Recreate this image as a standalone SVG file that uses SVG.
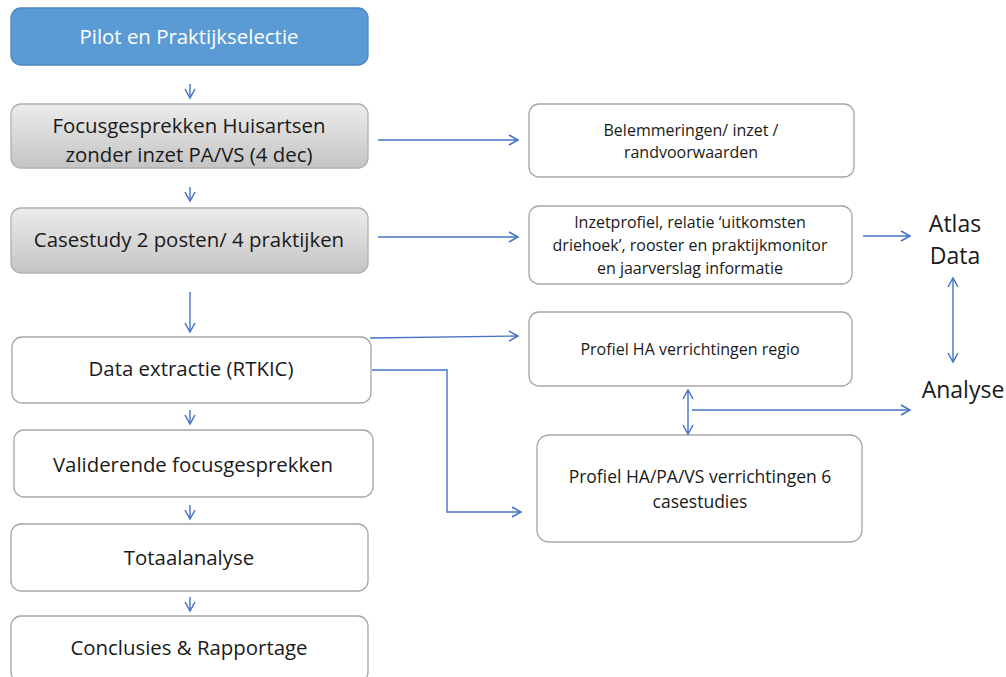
<svg xmlns="http://www.w3.org/2000/svg" width="1006" height="677" viewBox="0 0 1006 677">
<defs>
<linearGradient id="gray" x1="0" y1="0" x2="0" y2="1">
<stop offset="0" stop-color="#ececec"/>
<stop offset="1" stop-color="#c4c4c4"/>
</linearGradient>
<marker id="arr" markerWidth="12" markerHeight="12" refX="10" refY="6" orient="auto-start-reverse" markerUnits="userSpaceOnUse">
<path d="M1,1 L10,6 L1,11" fill="none" stroke="#4472c4" stroke-width="1.5"/>
</marker>
</defs>
<style>
.box{fill:#fff;stroke:#a6a6a6;stroke-width:1.3}
.gbox{fill:url(#gray);stroke:#b0b0b0;stroke-width:1.3}
.bbox{fill:#5b9bd5;stroke:#4a86c0;stroke-width:1.3}
.t{font-family:"Open Sans","Noto Sans",sans-serif;font-size:20.4px;fill:#1a1a1a;text-anchor:middle}
.s{font-family:"Open Sans","Noto Sans",sans-serif;font-size:16px;fill:#1a1a1a;text-anchor:middle}
.big{font-family:"Open Sans","Noto Sans",sans-serif;font-size:23px;fill:#1a1a1a;text-anchor:middle}
.c{fill:none;stroke:#4472c4;stroke-width:1.4}
.a{marker-end:url(#arr)}
.d{marker-start:url(#arr);marker-end:url(#arr)}
</style>
<g id="pilot"><rect class="bbox" x="11" y="8" width="357" height="57" rx="10"/><text class="t" x="189" y="44" style="fill:#fff">Pilot en Praktijkselectie</text></g>
<g id="focus"><rect class="gbox" x="11" y="104" width="357" height="64" rx="10"/><text class="t" x="189" y="133">Focusgesprekken Huisartsen</text><text class="t" x="189" y="162">zonder inzet PA/VS (4 dec)</text></g>
<g id="casestudy"><rect class="gbox" x="11" y="208" width="357" height="65" rx="10"/><text class="t" x="189" y="247">Casestudy 2 posten/ 4 praktijken</text></g>
<g id="data"><rect class="box" x="12" y="337" width="359" height="66" rx="10"/><text class="t" x="191" y="376">Data extractie (RTKIC)</text></g>
<g id="valid"><rect class="box" x="14" y="430" width="359" height="67" rx="10"/><text class="t" x="193" y="472">Validerende focusgesprekken</text></g>
<g id="totaal"><rect class="box" x="11" y="524" width="357" height="67" rx="10"/><text class="t" x="189" y="565">Totaalanalyse</text></g>
<g id="concl"><rect class="box" x="11" y="616" width="357" height="66" rx="10"/><text class="t" x="189" y="655">Conclusies &amp; Rapportage</text></g>
<g id="belem"><rect class="box" x="529" y="104" width="325" height="73" rx="10"/><text class="s" x="691" y="136">Belemmeringen/ inzet /</text><text class="s" x="691" y="158">randvoorwaarden</text></g>
<g id="inzet"><rect class="box" x="529" y="206" width="323" height="78" rx="10"/><text class="s" x="690" y="228">Inzetprofiel, relatie ‘uitkomsten</text><text class="s" x="690" y="251">driehoek’, rooster en praktijkmonitor</text><text class="s" x="690" y="274">en jaarverslag informatie</text></g>
<g id="regio"><rect class="box" x="529" y="312" width="323" height="74" rx="10"/><text class="s" x="690" y="355">Profiel HA verrichtingen regio</text></g>
<g id="casest6"><rect class="box" x="537" y="435" width="325" height="107" rx="12"/><text class="s" x="700" y="483" style="font-size:17.5px">Profiel HA/PA/VS verrichtingen 6</text><text class="s" x="700" y="508" style="font-size:17.5px">casestudies</text></g>
<g id="atlas"><text class="big" x="955" y="232">Atlas</text><text class="big" x="955" y="264">Data</text></g>
<g id="analyse"><text class="big" x="963" y="398">Analyse</text></g>
<g id="connectors">
<line class="c a" x1="190" y1="84" x2="190" y2="98"/>
<line class="c a" x1="190" y1="187" x2="190" y2="201"/>
<line class="c a" x1="190" y1="292" x2="190" y2="332"/>
<line class="c a" x1="190" y1="410" x2="190" y2="424"/>
<line class="c a" x1="190" y1="505" x2="190" y2="519"/>
<line class="c a" x1="190" y1="597" x2="190" y2="611"/>
<line class="c a" x1="378" y1="140" x2="518" y2="140"/>
<line class="c a" x1="378" y1="237" x2="518" y2="237"/>
<line class="c a" x1="863" y1="236" x2="910" y2="236"/>
<line class="c d" x1="953" y1="278" x2="953" y2="362"/>
<line class="c a" x1="370" y1="338" x2="518" y2="336"/>
<polyline class="c a" points="372,370 447,370 447,512 521,512"/>
<line class="c d" x1="688" y1="390" x2="688" y2="434"/>
<line class="c a" x1="692" y1="410" x2="910" y2="410"/>
</g>
</svg>
